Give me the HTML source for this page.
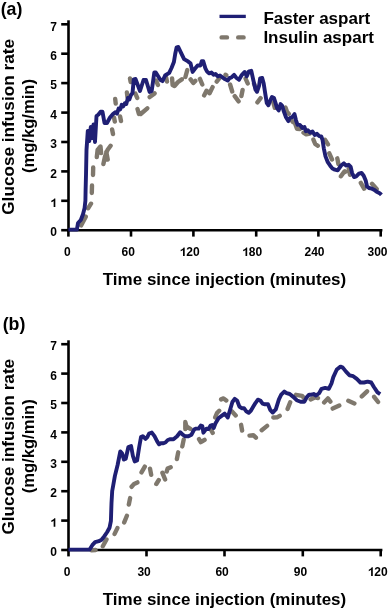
<!DOCTYPE html>
<html><head><meta charset="utf-8"><style>
html,body{margin:0;padding:0;background:#fff;width:388px;height:611px;overflow:hidden}
svg{display:block;will-change:transform}
text{font-family:"Liberation Sans",sans-serif;font-weight:bold;fill:#000}
.tl{font-size:12px}
.big{font-size:17px}
</style></head><body>
<svg width="388" height="611" viewBox="0 0 388 611">
<rect width="388" height="611" fill="#fff"/>
<text x="0.7" y="14.6" class="big" style="font-size:17.8px">(a)</text>
<text x="2.7" y="329.8" class="big" style="font-size:17.8px">(b)</text>
<!-- legend -->
<line x1="219.5" y1="16.4" x2="245.8" y2="16.4" stroke="#1f1f74" stroke-width="3.3"/>
<line x1="221.6" y1="37.4" x2="243.6" y2="37.4" stroke="#7f786d" stroke-width="4.4" stroke-linecap="round" stroke-dasharray="5.4 11.2"/>
<text x="263.4" y="23.7" class="big">Faster aspart</text>
<text x="263.4" y="43.2" class="big">Insulin aspart</text>
<!-- chart a -->
<line x1="68.5" y1="20.3" x2="68.5" y2="231.5" stroke="#000" stroke-width="2.6"/>
<line x1="67.2" y1="230.2" x2="382.4" y2="230.2" stroke="#000" stroke-width="2.6"/>
<line x1="61.2" y1="230.2" x2="69" y2="230.2" stroke="#000" stroke-width="2.6"/>
<text x="56.9" y="236.4" class="tl" text-anchor="end">0</text>
<line x1="61.2" y1="200.8" x2="69" y2="200.8" stroke="#000" stroke-width="2.6"/>
<path d="M425,0 L285,0 L285,505 C235,458 170,422 90,396 L90,522 C135,537 185,562 235,600 C285,640 320,682 338,716 L425,716 Z" transform="translate(50.23,207.0) scale(0.012,-0.012)"/>
<line x1="61.2" y1="171.4" x2="69" y2="171.4" stroke="#000" stroke-width="2.6"/>
<text x="56.9" y="177.6" class="tl" text-anchor="end">2</text>
<line x1="61.2" y1="142.0" x2="69" y2="142.0" stroke="#000" stroke-width="2.6"/>
<text x="56.9" y="148.2" class="tl" text-anchor="end">3</text>
<line x1="61.2" y1="112.6" x2="69" y2="112.6" stroke="#000" stroke-width="2.6"/>
<text x="56.9" y="118.8" class="tl" text-anchor="end">4</text>
<line x1="61.2" y1="83.1" x2="69" y2="83.1" stroke="#000" stroke-width="2.6"/>
<text x="56.9" y="89.3" class="tl" text-anchor="end">5</text>
<line x1="61.2" y1="53.7" x2="69" y2="53.7" stroke="#000" stroke-width="2.6"/>
<text x="56.9" y="59.9" class="tl" text-anchor="end">6</text>
<line x1="61.2" y1="24.3" x2="69" y2="24.3" stroke="#000" stroke-width="2.6"/>
<text x="56.9" y="30.5" class="tl" text-anchor="end">7</text>
<line x1="68.4" y1="230.2" x2="68.4" y2="236.6" stroke="#000" stroke-width="2.6"/>
<text x="67.4" y="256.1" class="tl" text-anchor="middle">0</text>
<line x1="131.0" y1="230.2" x2="131.0" y2="236.6" stroke="#000" stroke-width="2.6"/>
<text x="128.2" y="256.1" class="tl" text-anchor="middle">60</text>
<line x1="193.4" y1="230.2" x2="193.4" y2="236.6" stroke="#000" stroke-width="2.6"/>
<path d="M425,0 L285,0 L285,505 C235,458 170,422 90,396 L90,522 C135,537 185,562 235,600 C285,640 320,682 338,716 L425,716 Z" transform="translate(179.59,256.1) scale(0.012,-0.012)"/>
<text x="186.26" y="256.1" class="tl">20</text>
<line x1="256.2" y1="230.2" x2="256.2" y2="236.6" stroke="#000" stroke-width="2.6"/>
<path d="M425,0 L285,0 L285,505 C235,458 170,422 90,396 L90,522 C135,537 185,562 235,600 C285,640 320,682 338,716 L425,716 Z" transform="translate(242.09,256.1) scale(0.012,-0.012)"/>
<text x="248.76" y="256.1" class="tl">80</text>
<line x1="318.4" y1="230.2" x2="318.4" y2="236.6" stroke="#000" stroke-width="2.6"/>
<text x="314.5" y="256.1" class="tl" text-anchor="middle">240</text>
<line x1="380.7" y1="230.2" x2="380.7" y2="236.6" stroke="#000" stroke-width="2.6"/>
<text x="377.5" y="256.1" class="tl" text-anchor="middle">300</text>
<text x="102.8" y="285" class="big">Time since injection (minutes)</text>
<text transform="translate(13.7,126.9) rotate(-90)" class="big" style="font-size:17.2px" text-anchor="middle">Glucose infusion rate</text>
<text transform="translate(33.6,126.1) rotate(-90)" class="big" style="font-size:16.6px" text-anchor="middle">(mg/kg/min)</text>
<path d="M81.1,225.4 L85.8,216.6 M88.1,208.3 L91.0,203.7 M92.0,185.5 L91.8,193.0 M93.2,167.5 L93.0,175.0 M96.8,157.0 L97.6,150.0 L100.5,146.5 L101.1,153.0 M103.4,164.0 L105.0,156.5 L107.5,150.0 L110.6,145.7 M106.3,152.0 L107.7,159.5 M112.1,129.5 L113.0,134.0 M115.2,99.0 L115.7,103.5 M114.0,117.5 L114.8,121.5 M120.1,116.5 L121.0,121.0 M126.9,92.5 L127.5,97.5 M130.0,78.5 L130.7,82.0 M135.4,93.6 L137.2,97.9 M137.5,109.0 L138.9,114.0 M140.7,114.0 L147.3,108.3 M149.7,97.1 L154.6,93.4 M156.1,80.6 L157.9,84.9 M166.1,77.6 L167.0,81.6 M172.1,78.5 L172.6,85.0 L174.5,86.0 L178.0,82.0 L181.8,79.4 M185.4,77.0 L187.3,70.0 M190.6,79.4 L193.3,83.0 L195.3,80.9 M199.9,78.9 L202.3,84.5 M204.1,95.4 L206.5,90.8 L209.6,93.2 L212.6,87.1 M216.7,81.6 L219.8,77.6 M225.5,74.8 L226.3,75.2 M230.1,84.5 L232.2,91.5 M234.7,96.2 L238.6,101.3 M241.4,96.0 L242.6,90.0 M245.6,78.6 L247.7,83.4 M254.0,83.7 L255.9,88.1 M257.4,102.3 L260.6,98.2 M273.3,102.4 L274.8,107.8 M285.5,107.5 L286.9,111.5 M288.2,113.0 L288.8,113.8 M290.2,118.8 L293.0,122.0 M294.9,122.9 L297.0,128.8 L299.8,129.1 M303.5,132.7 L306.2,134.4 L309.8,133.6 M313.4,139.6 L315.2,144.0 L317.8,145.8 M325.0,139.7 L328.0,144.4 M329.3,153.3 L332.0,159.5 M337.3,158.3 L338.4,164.0 M340.9,176.3 L344.0,171.9 M344.8,171.3 L345.3,171.9 M348.7,168.8 L350.0,174.8 M360.8,182.9 L364.1,188.7 M372.0,183.8 L376.7,188.9" fill="none" stroke="#7f786d" stroke-width="4.4" stroke-linecap="round" stroke-linejoin="round"/>
<path d="M68.4,229.6 L76.9,229.6 L78.0,223.0 L80.8,220.0 L83.0,214.2 L84.6,208.0 L85.4,200.8 L85.6,190.0 L86.0,175.0 L86.5,150.0 L87.8,131.0 L89.3,141.0 L90.8,127.0 L92.0,138.0 L93.5,124.5 L95.0,142.0 L96.5,116.0 L98.5,114.5 L100.5,111.8 L102.5,111.8 L104.5,123.0 L107.0,123.0 L110.0,117.5 L113.2,113.8 L115.5,112.2 L117.0,113.6 L118.6,108.6 L120.2,109.4 L121.7,104.8 L123.2,106.4 L124.8,103.3 L126.3,104.0 L127.9,97.9 L129.4,99.4 L131.0,94.8 L132.5,93.2 L133.8,79.3 L135.5,79.0 L140.0,91.0 L143.5,80.0 L146.0,80.0 L149.6,92.0 L151.7,91.0 L154.3,72.4 L155.8,72.4 L160.5,80.1 L162.5,81.1 L165.1,75.5 L169.2,72.9 L171.5,68.0 L173.9,62.0 L175.2,54.0 L176.6,47.3 L178.3,47.0 L181.3,53.4 L184.1,59.1 L187.6,61.2 L190.5,63.3 L192.6,71.9 L194.7,69.0 L197.6,65.5 L200.4,65.5 L201.8,61.2 L203.2,61.2 L205.4,68.3 L207.0,71.5 L209.3,73.4 L211.5,72.5 L213.5,74.8 L215.5,74.0 L217.8,76.3 L220.0,75.5 L222.0,77.0 L224.8,79.1 L227.7,80.5 L229.5,78.0 L231.2,77.7 L234.1,74.8 L236.2,77.7 L239.0,79.8 L241.9,74.8 L244.7,72.0 L246.8,76.3 L248.9,71.3 L251.3,70.8 L253.4,80.5 L255.5,89.7 L257.0,91.8 L259.1,85.6 L260.1,78.4 L262.2,77.9 L263.7,83.6 L265.3,93.9 L266.8,103.1 L268.4,105.2 L270.4,100.1 L272.0,97.0 L274.0,98.0 L275.6,103.1 L277.1,108.3 L278.7,110.4 L280.6,104.1 L282.1,105.6 L283.7,111.0 L286.0,117.2 L288.3,121.1 L289.8,118.0 L292.2,117.2 L294.5,114.1 L296.0,120.3 L297.6,124.9 L299.9,124.9 L302.3,128.0 L304.5,127.0 L305.8,131.2 L307.9,130.2 L310.2,132.7 L312.5,131.5 L314.7,134.9 L317.0,133.8 L319.3,136.1 L321.3,136.5 L322.6,140.2 L323.8,148.3 L325.5,156.4 L327.8,162.2 L330.2,165.7 L332.5,168.6 L334.8,169.7 L337.7,170.3 L341.1,165.5 L343.9,163.4 L345.9,165.5 L348.7,164.8 L350.7,166.9 L352.1,173.0 L354.1,177.1 L356.2,176.4 L358.9,173.7 L361.6,173.0 L363.7,175.7 L365.7,180.5 L367.1,186.7 L369.2,188.0 L371.9,188.7 L374.6,190.1 L377.3,192.1 L380.1,193.5 L381.4,194.9" fill="none" stroke="#1f1f74" stroke-width="3.9" stroke-linejoin="round"/>
<!-- chart b -->
<line x1="68.5" y1="340.3" x2="68.5" y2="551.3" stroke="#000" stroke-width="2.6"/>
<line x1="67.2" y1="550.0" x2="382.4" y2="550.0" stroke="#000" stroke-width="2.6"/>
<line x1="61.2" y1="550.0" x2="69" y2="550.0" stroke="#000" stroke-width="2.6"/>
<text x="56.9" y="556.2" class="tl" text-anchor="end">0</text>
<line x1="61.2" y1="520.6" x2="69" y2="520.6" stroke="#000" stroke-width="2.6"/>
<path d="M425,0 L285,0 L285,505 C235,458 170,422 90,396 L90,522 C135,537 185,562 235,600 C285,640 320,682 338,716 L425,716 Z" transform="translate(50.23,526.8) scale(0.012,-0.012)"/>
<line x1="61.2" y1="491.2" x2="69" y2="491.2" stroke="#000" stroke-width="2.6"/>
<text x="56.9" y="497.4" class="tl" text-anchor="end">2</text>
<line x1="61.2" y1="461.8" x2="69" y2="461.8" stroke="#000" stroke-width="2.6"/>
<text x="56.9" y="468.0" class="tl" text-anchor="end">3</text>
<line x1="61.2" y1="432.4" x2="69" y2="432.4" stroke="#000" stroke-width="2.6"/>
<text x="56.9" y="438.6" class="tl" text-anchor="end">4</text>
<line x1="61.2" y1="403.0" x2="69" y2="403.0" stroke="#000" stroke-width="2.6"/>
<text x="56.9" y="409.2" class="tl" text-anchor="end">5</text>
<line x1="61.2" y1="373.6" x2="69" y2="373.6" stroke="#000" stroke-width="2.6"/>
<text x="56.9" y="379.8" class="tl" text-anchor="end">6</text>
<line x1="61.2" y1="344.2" x2="69" y2="344.2" stroke="#000" stroke-width="2.6"/>
<text x="56.9" y="350.4" class="tl" text-anchor="end">7</text>
<line x1="68.5" y1="550.0" x2="68.5" y2="556.4" stroke="#000" stroke-width="2.6"/>
<text x="67.1" y="575.9" class="tl" text-anchor="middle">0</text>
<line x1="146.5" y1="550.0" x2="146.5" y2="556.4" stroke="#000" stroke-width="2.6"/>
<text x="144.1" y="575.9" class="tl" text-anchor="middle">30</text>
<line x1="224.5" y1="550.0" x2="224.5" y2="556.4" stroke="#000" stroke-width="2.6"/>
<text x="222.1" y="575.9" class="tl" text-anchor="middle">60</text>
<line x1="302.8" y1="550.0" x2="302.8" y2="556.4" stroke="#000" stroke-width="2.6"/>
<text x="300.5" y="575.9" class="tl" text-anchor="middle">90</text>
<line x1="380.7" y1="550.0" x2="380.7" y2="556.4" stroke="#000" stroke-width="2.6"/>
<path d="M425,0 L285,0 L285,505 C235,458 170,422 90,396 L90,522 C135,537 185,562 235,600 C285,640 320,682 338,716 L425,716 Z" transform="translate(367.69,575.9) scale(0.012,-0.012)"/>
<text x="374.36" y="575.9" class="tl">20</text>
<text x="102.8" y="605" class="big">Time since injection (minutes)</text>
<text transform="translate(13.7,446.7) rotate(-90)" class="big" style="font-size:17.2px" text-anchor="middle">Glucose infusion rate</text>
<text transform="translate(33.6,446.3) rotate(-90)" class="big" style="font-size:16.6px" text-anchor="middle">(mg/kg/min)</text>
<path d="M91.5,550.4 L95.5,550.0 M102.8,546.2 L106.5,539.5 M114.6,533.9 L117.4,528.1 M124.2,522.4 L126.9,515.7 M128.8,504.6 L130.1,498.1 M131.6,486.8 L134.1,483.9 L137.4,482.4 M141.5,472.4 L144.8,466.6 M150.0,468.7 L151.2,474.8 M156.3,484.0 L158.8,480.0 M162.4,472.9 L165.1,479.4 M166.7,471.5 L167.6,468.6 L170.7,467.3 M176.9,459.0 L178.2,452.3 M182.3,446.4 L183.7,439.6 M185.3,429.0 L185.3,422.0 L186.5,426.5 L190.4,428.8 M199.0,439.1 L200.8,442.2 L204.6,439.8 M210.7,429.3 L212.7,432.9 M215.2,417.4 L217.0,413.0 L219.2,410.8 M221.1,399.4 L223.6,398.4 L226.3,400.4 M231.8,411.3 L235.7,415.5 M241.1,424.8 L242.1,430.5 M249.5,435.6 L253.3,435.2 L255.9,437.7 M261.7,430.2 L267.1,425.9 M273.3,417.5 L277.0,417.4 L279.7,415.9 M287.6,408.9 L290.2,402.3 M296.0,394.8 L302.0,395.8 L304.2,398.2 M310.6,399.4 L314.8,397.4 L318.0,398.1 M324.1,402.5 L327.9,398.4 L330.4,401.6 M332.7,408.6 L339.3,405.6 M348.3,400.8 L354.4,403.4 M361.8,396.4 L367.1,391.3 M374.1,396.8 L378.1,402.0" fill="none" stroke="#7f786d" stroke-width="4.4" stroke-linecap="round" stroke-linejoin="round"/>
<path d="M68.5,549.6 L89.6,549.5 L92.3,545.2 L95.1,542.2 L98.8,541.2 L101.6,539.8 L104.4,536.1 L107.2,532.0 L109.5,527.8 L110.9,521.0 L111.5,503.0 L112.2,491.0 L113.2,485.5 L114.9,475.9 L117.6,465.0 L120.3,451.5 L122.1,453.3 L123.9,459.6 L125.7,458.7 L128.4,447.0 L131.1,446.1 L132.9,456.0 L134.7,461.4 L137.1,460.5 L139.2,447.0 L141.0,437.1 L142.8,436.2 L145.5,438.9 L147.3,437.1 L149.1,433.5 L151.8,432.6 L154.5,436.2 L157.3,441.6 L159.1,444.3 L160.5,443.3 L162.9,443.3 L165.4,442.5 L167.8,440.0 L170.3,439.2 L173.5,439.2 L177.1,436.3 L180.2,432.2 L182.7,434.7 L185.3,436.3 L188.4,436.3 L191.5,434.7 L194.1,429.6 L196.1,428.6 L198.7,428.6 L200.8,425.5 L202.3,426.0 L203.4,432.7 L204.9,430.6 L206.4,428.6 L208.5,429.1 L210.6,425.5 L212.1,425.0 L213.7,428.0 L215.4,423.5 L218.5,418.2 L221.6,415.9 L224.7,413.6 L227.8,417.5 L230.1,409.7 L232.4,402.0 L234.7,398.9 L237.1,400.5 L239.4,406.6 L241.7,408.2 L244.0,408.2 L246.3,411.3 L248.7,412.8 L251.0,410.5 L253.3,406.6 L255.6,402.8 L257.9,399.7 L260.3,400.5 L262.6,403.6 L264.9,404.3 L268.0,404.3 L270.4,410.2 L272.7,412.5 L275.8,409.4 L278.9,399.4 L281.2,394.7 L284.3,391.6 L286.6,393.2 L289.7,394.0 L293.6,397.1 L296.7,400.2 L300.6,401.7 L304.4,401.7 L306.8,397.1 L309.1,394.7 L311.4,394.7 L313.7,394.0 L316.0,395.5 L319.1,393.2 L321.6,388.8 L325.2,387.9 L328.8,388.8 L331.5,383.4 L333.3,377.1 L336.8,369.5 L340.5,366.6 L342.8,367.6 L346.0,371.6 L349.6,375.3 L353.2,376.2 L356.8,378.9 L360.4,382.5 L364.0,382.5 L367.6,381.6 L371.2,382.5 L373.9,387.0 L377.5,392.4 L380.2,394.2" fill="none" stroke="#1f1f74" stroke-width="3.9" stroke-linejoin="round"/>
</svg>
</body></html>
